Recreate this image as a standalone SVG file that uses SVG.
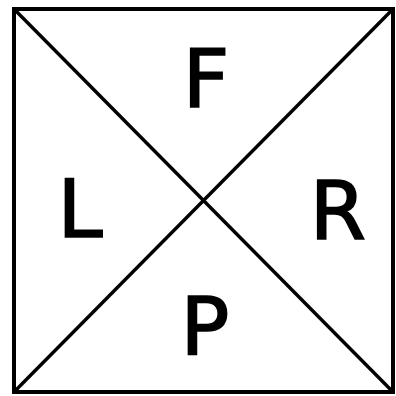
<svg xmlns="http://www.w3.org/2000/svg" width="396" height="396" viewBox="0 0 396 396">
<style>
.frame{fill:none;stroke:#000;stroke-width:4}
.diag{stroke:#000;stroke-width:3.4}
.lbl{font-family:"DejaVu Sans",sans-serif;font-size:81px;fill:#000;stroke:#000;stroke-width:1.6;text-anchor:middle}
</style>
<rect width="396" height="396" fill="#fff"/>
<g id="connectors">
<rect class="frame" x="14" y="9" width="379" height="383"/>
<line class="diag" x1="14" y1="9" x2="393" y2="392"/>
<line class="diag" x1="393" y1="9" x2="14" y2="392"/>
</g>
<g id="F"><text class="lbl" x="206" y="107">F</text></g>
<g id="L"><text class="lbl" x="80" y="237">L</text></g>
<g id="R"><text class="lbl" x="338" y="239">R</text></g>
<g id="P"><text class="lbl" x="205" y="355">P</text></g>
</svg>
